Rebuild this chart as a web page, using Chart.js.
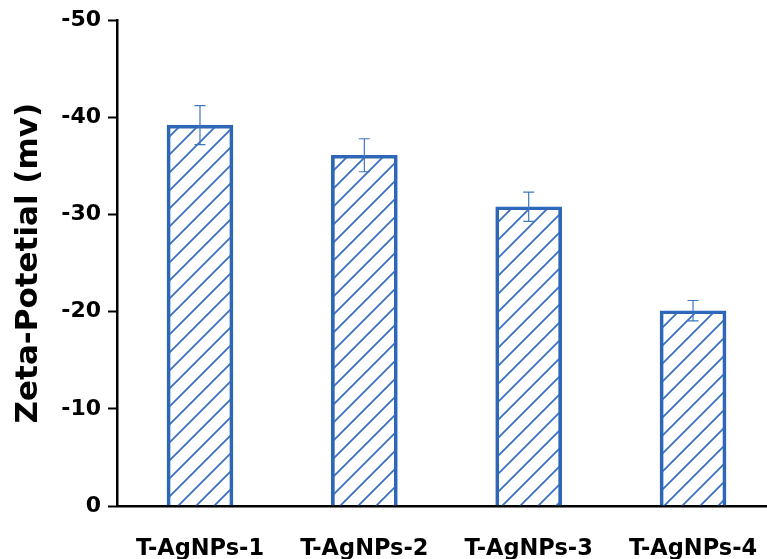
<!DOCTYPE html>
<html>
<head>
<meta charset="utf-8">
<script src="https://cdn.jsdelivr.net/npm/chart.js@4/dist/chart.umd.min.js"></script>
<style>
  html, body { margin: 0; padding: 0; background: #ffffff; overflow: hidden; }
  canvas { display: block; }
</style>
</head>
<body>
<canvas id="zeta" width="767" height="559"></canvas>
<script>
// Zeta potential of the four silver nanoparticle samples (mV)
const samples = ['T-AgNPs-1', 'T-AgNPs-2', 'T-AgNPs-3', 'T-AgNPs-4'];
const zetaValues = [-39.2, -36.1, -30.8, -20.1];
const zetaErrors = [2.0, 1.7, 1.5, 1.05];
const yTickValues = [-50, -40, -30, -20, -10, 0];

const BLUE = '#2e67b7';
const FONT = "'DejaVu Sans', 'Liberation Sans', Arial, sans-serif";

// Diagonal hatch fill for the bars
function makeHatch(color) {
  const s = 18;
  const c = document.createElement('canvas');
  c.width = s; c.height = s;
  const g = c.getContext('2d');
  g.strokeStyle = color;
  g.lineWidth = 1.8;
  g.beginPath();
  g.moveTo(0, s); g.lineTo(s, 0);
  g.moveTo(-2, 2); g.lineTo(2, -2);
  g.moveTo(s - 2, s + 2); g.lineTo(s + 2, s - 2);
  g.stroke();
  return g.createPattern(c, 'repeat');
}

// Error bars drawn from the dataset through the y scale
const errorBars = {
  id: 'errorBars',
  afterDatasetsDraw(chart) {
    const ctx = chart.ctx;
    const y = chart.scales.y;
    const meta = chart.getDatasetMeta(0);
    ctx.save();
    ctx.strokeStyle = '#3f76c2';
    ctx.lineWidth = 1.2;
    meta.data.forEach((bar, i) => {
      const v = zetaValues[i], e = zetaErrors[i];
      const yHi = y.getPixelForValue(v - e);
      const yLo = y.getPixelForValue(v + e);
      const x = bar.x;
      ctx.beginPath();
      ctx.moveTo(x, yHi); ctx.lineTo(x, yLo);
      ctx.moveTo(x - 5.5, yHi); ctx.lineTo(x + 5.5, yHi);
      ctx.moveTo(x - 5.5, yLo); ctx.lineTo(x + 5.5, yLo);
      ctx.stroke();
    });
    ctx.restore();
  }
};

const ctx = document.getElementById('zeta').getContext('2d');
new Chart(ctx, {
  type: 'bar',
  data: {
    datasets: [{
      data: zetaValues.map((v, i) => ({ x: i + 1, y: v })),
      backgroundColor: makeHatch('#3a70c0'),
      borderColor: BLUE,
      borderWidth: 3,
      barThickness: 66
    }]
  },
  options: {
    responsive: false,
    animation: false,
    events: [],
    layout: { padding: { left: 8, right: 0, top: 12, bottom: 0 } },
    plugins: { legend: { display: false }, tooltip: { enabled: false } },
    scales: {
      x: {
        type: 'linear',
        offset: false,
        min: 0.495,
        max: 4.45,
        afterBuildTicks(scale) {
          scale.ticks = samples.map((_, i) => ({ value: i + 1 }));
        },
        afterFit(scale) {
          scale.height = 53;
          scale.paddingLeft = 0;
          scale.paddingRight = 0;
        },
        ticks: {
          callback: (v) => samples[Math.round(v) - 1] || '',
          color: '#000',
          font: { family: FONT, size: 22.5, weight: 'bold' },
          padding: 30,
          maxRotation: 0,
          autoSkip: false
        },
        grid: { display: true, offset: false, drawOnChartArea: false, drawTicks: false },
        border: { display: true, color: '#000', width: 2.5 }
      },
      y: {
        min: -50,
        max: 0,
        reverse: true,
        afterBuildTicks(scale) {
          scale.ticks = yTickValues.map(v => ({ value: v }));
        },
        afterFit(scale) { scale.width = 109; },
        ticks: {
          color: '#000',
          font: { family: FONT, size: 22, weight: 'bold' },
          padding: 7
        },
        grid: { display: true, drawOnChartArea: false, drawTicks: true, tickLength: 9, tickWidth: 2, tickColor: '#000' },
        border: { display: true, color: '#000', width: 2.5 },
        title: {
          display: true,
          text: 'Zeta-Potetial (mv)',
          color: '#000',
          font: { family: FONT, size: 31, weight: 'bold' },
          padding: { top: 2, bottom: 4 }
        }
      }
    }
  },
  plugins: [errorBars]
});
</script>
</body>
</html>
